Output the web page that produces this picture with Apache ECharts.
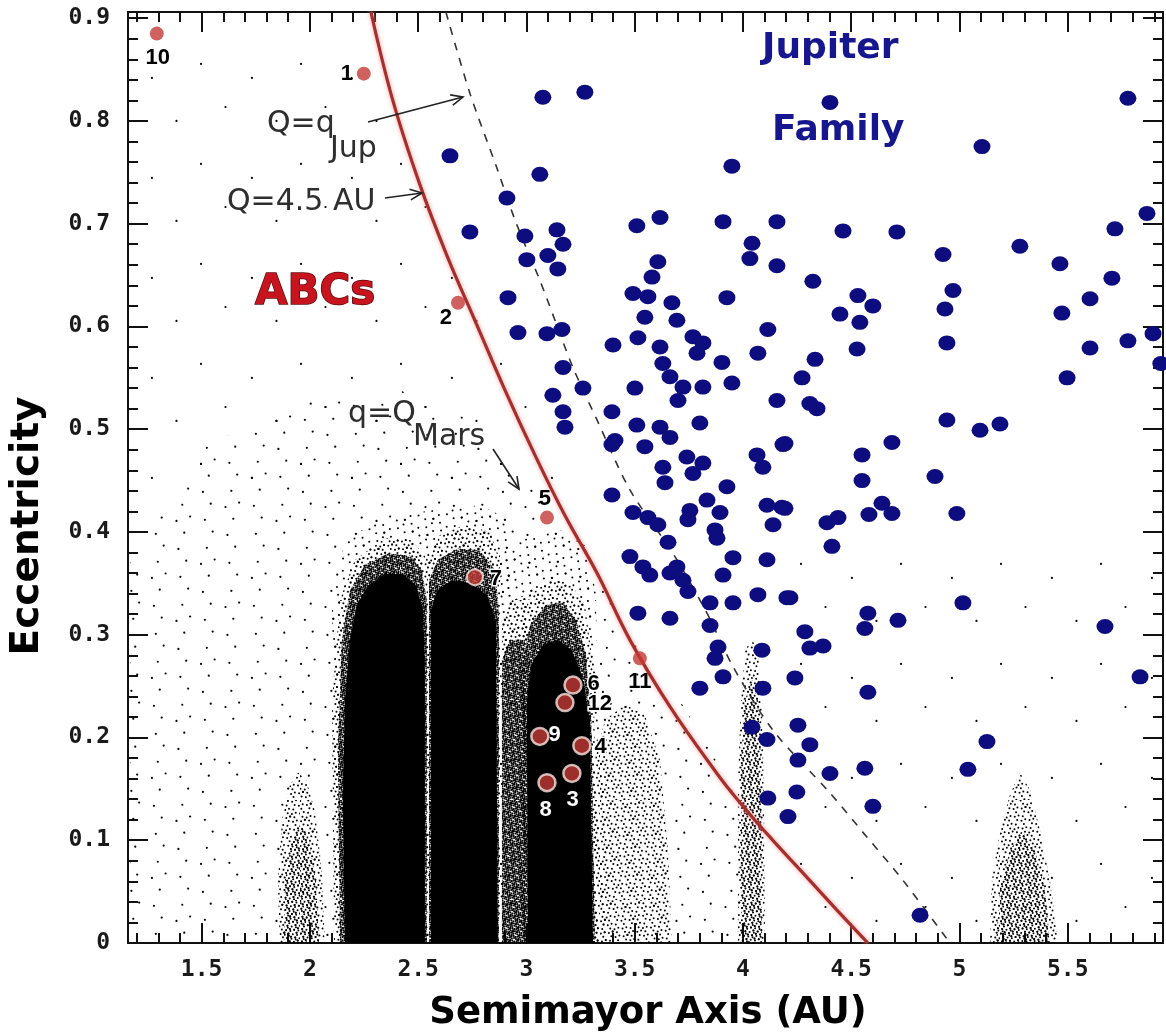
<!DOCTYPE html>
<html><head><meta charset="utf-8">
<script src="https://cdn.jsdelivr.net/npm/echarts@6/dist/echarts.min.js"></script>
<style>html,body{margin:0;padding:0;background:#fff}#c{width:1166px;height:1035px}</style>
</head><body><div id="c"></div>
<script>
// ================= DATA =================
// axis ticks
const xTickValues = [1.5, 2, 2.5, 3, 3.5, 4, 4.5, 5, 5.5];
const xMinorTickValues = [1.2,1.3,1.4,1.6,1.7,1.8,1.9,2.1,2.2,2.3,2.4,2.6,2.7,2.8,2.9,3.1,3.2,3.3,3.4,3.6,3.7,3.8,3.9,4.1,4.2,4.3,4.4,4.6,4.7,4.8,4.9,5.1,5.2,5.3,5.4,5.6,5.7,5.8,5.9];
const yTickValues = [0, 0.1, 0.2, 0.3, 0.4, 0.5, 0.6, 0.7, 0.8, 0.9];
const yMinorTickValues = [0.02,0.04,0.06,0.08,0.12,0.14,0.16,0.18,0.22,0.24,0.26,0.28,0.32,0.34,0.36,0.38,0.42,0.44,0.46,0.48,0.52,0.54,0.56,0.58,0.62,0.64,0.66,0.68,0.72,0.74,0.76,0.78,0.82,0.84,0.86,0.88];

// Jupiter-family comets [a, e]
const jupiterFamily = [
 [3.076,0.823],[3.270,0.828],[2.647,0.766],[3.062,0.748],[3.949,0.756],[2.910,0.725],[2.739,0.692],[2.993,0.688],
 [3.141,0.694],[3.169,0.680],[3.510,0.698],[3.617,0.706],[3.908,0.702],[4.157,0.702],[3.002,0.665],[3.099,0.669],
 [3.145,0.656],[4.042,0.681],[4.032,0.666],[4.157,0.659],[3.607,0.663],[3.580,0.648],[2.915,0.628],[3.492,0.632],
 [3.561,0.629],[3.672,0.623],[3.926,0.628],[3.547,0.609],[3.695,0.606],[2.961,0.594],[3.095,0.593],[3.164,0.597],
 [3.400,0.582],[3.515,0.589],[3.617,0.580],[3.630,0.564],[3.663,0.551],[3.769,0.590],[3.815,0.584],[3.788,0.574],
 [4.115,0.597],[4.069,0.574],[3.903,0.565],[3.169,0.560],[3.261,0.540],[3.122,0.533],[3.501,0.540],[3.723,0.541],
 [3.815,0.541],[3.949,0.545],[3.700,0.528],[4.157,0.528],[3.169,0.517],[3.178,0.502],[3.395,0.517],[3.510,0.504],
 [3.617,0.502],[3.663,0.492],[3.801,0.506],[3.409,0.489],[4.194,0.486],[4.402,0.818],[5.778,0.822],[5.104,0.775],
 [4.462,0.693],[4.711,0.692],[5.866,0.710],[5.718,0.695],[5.279,0.678],[4.924,0.670],[5.464,0.661],[4.323,0.644],
 [4.531,0.630],[4.600,0.620],[4.448,0.612],[4.540,0.604],[4.970,0.635],[4.933,0.617],[5.704,0.647],[5.603,0.627],
 [5.473,0.613],[4.527,0.578],[4.942,0.584],[5.603,0.579],[5.778,0.586],[5.894,0.593],[5.930,0.564],[4.333,0.568],
 [4.273,0.550],[4.309,0.525],[4.342,0.520],[5.497,0.550],[4.942,0.509],[5.095,0.499],[5.187,0.505],[4.688,0.487],
 [4.550,0.475],[4.550,0.450],[4.887,0.454],[4.194,0.423],[4.388,0.409],[4.439,0.414],[4.582,0.417],[4.642,0.428],
 [4.688,0.418],[4.988,0.418],[4.411,0.386],[4.217,0.336],[5.016,0.331],[4.577,0.321],[4.563,0.306],[4.716,0.314],
 [5.672,0.308],[4.286,0.303],[4.309,0.287],[4.370,0.289],[4.240,0.258],[4.577,0.244],[5.834,0.259],[4.254,0.212],
 [4.309,0.193],[5.127,0.196],[4.254,0.178],[4.402,0.165],[4.563,0.170],[5.039,0.169],[4.249,0.147],[4.600,0.133],
 [4.208,0.123],[4.818,0.027],[3.395,0.436],[3.492,0.419],[3.561,0.414],[3.607,0.407],[3.478,0.376],[3.538,0.366],
 [3.570,0.358],[3.654,0.390],[3.630,0.463],[3.741,0.473],[3.769,0.457],[3.815,0.467],[3.547,0.483],[3.640,0.448],
 [3.663,0.360],[3.723,0.353],[3.695,0.366],[3.746,0.342],[3.880,0.394],[3.871,0.402],[3.926,0.444],[3.834,0.431],
 [3.894,0.419],[3.755,0.421],[3.746,0.412],[3.954,0.375],[3.908,0.358],[4.111,0.373],[4.139,0.407],[4.111,0.426],
 [4.180,0.424],[4.065,0.475],[4.092,0.463],[4.185,0.485],[3.515,0.321],[3.663,0.316],[3.848,0.331],[3.954,0.331],
 [4.069,0.339],[4.203,0.336],[3.848,0.309],[3.885,0.288],[3.871,0.277],[3.908,0.259],[3.801,0.248],[4.088,0.285],
 [4.092,0.248],[4.042,0.210],[4.111,0.198],[4.115,0.141],[3.395,0.485]
];

// Asteroids in cometary orbits (ABCs)
const abcNames = ['1','2','3','4','5','6','7','8','9','10','11','12'];
const abcPoints = [[2.249,0.846],[2.684,0.623],[3.210,0.165],[3.256,0.192],[3.095,0.414],[3.215,0.251],
                   [2.762,0.356],[3.095,0.156],[3.062,0.201],[1.293,0.885],[3.524,0.277],[3.178,0.234]];

// Q = 4.5 AU boundary
const curveQ45 = [[2.282,0.906],[2.383,0.820],[2.508,0.738],[2.633,0.669],[2.762,0.606],[2.901,0.538],[3.039,0.475],
 [3.178,0.416],[3.326,0.360],[3.478,0.295],[3.663,0.230],[3.880,0.165],[3.977,0.139],[4.129,0.102],[4.282,0.067],[4.430,0.033],[4.577,0]];
// Q = q_Jup boundary (dashed)
const curveQJup = [[2.628,0.906],[2.739,0.827],[2.864,0.754],[2.952,0.701],[3.062,0.645],[3.132,0.606],[3.215,0.560],
 [3.326,0.509],[3.478,0.441],[3.677,0.379],[3.834,0.321],[3.954,0.269],[4.139,0.207],[4.402,0.146],[4.573,0.103],[4.739,0.061],[4.956,0]];

// asteroid population outlines [a, e]
const upperScatterField = [[1.169,0.888],[1.954,0.888],[2.416,0.801],[2.739,0.674],[2.970,0.548],[3.155,0.450],[1.169,0.450]];
const marsCrosserField = [[1.169,0.373],[1.492,0.480],[1.954,0.528],[2.416,0.538],[2.739,0.509],[2.970,0.460],[3.155,0.412],
 [3.386,0.334],[3.709,0.236],[3.986,0.139],[4.009,0],[1.169,0]];
const outerStrayField = [[4.20,0],[4.20,0.40],[5.90,0.40],[5.90,0]];
const beltUpperField = [[2.120,0],[2.102,0.334],[2.162,0.392],[2.323,0.412],[2.554,0.421],[2.785,0.426],[2.924,0.412],[2.901,0]];
const outerUpperField = [[2.901,0],[2.901,0.373],[2.970,0.392],[3.155,0.402],[3.270,0.387],[3.320,0.343],[3.330,0.250],[3.386,0]];
const innerBeltOuterHalo = [[2.111,0],[2.102,0.236],[2.139,0.334],[2.208,0.373],[2.346,0.394],[2.471,0.392],[2.545,0.373],[2.545,0]];
const innerBeltHalo = [[2.139,0],[2.129,0.188],[2.148,0.295],[2.185,0.343],[2.254,0.368],[2.360,0.379],[2.462,0.377],[2.517,0.363],[2.540,0.334],[2.540,0]];
const innerBeltCore = [[2.162,0],[2.152,0.139],[2.162,0.236],[2.185,0.295],[2.217,0.329],[2.268,0.348],[2.346,0.359],[2.430,0.359],[2.490,0.348],[2.522,0.324],[2.531,0.275],[2.531,0]];
const middleBeltOuterHalo = [[2.550,0],[2.550,0.373],[2.600,0.397],[2.716,0.407],[2.831,0.400],[2.878,0.373],[2.878,0]];
const middleBeltHalo = [[2.550,0],[2.550,0.353],[2.591,0.373],[2.684,0.384],[2.785,0.382],[2.855,0.363],[2.873,0.324],[2.873,0]];
const middleBeltCore = [[2.559,0],[2.559,0.324],[2.587,0.343],[2.656,0.353],[2.739,0.350],[2.818,0.339],[2.859,0.314],[2.868,0]];
const pristineUpper = [[2.887,0],[2.887,0.314],[2.933,0.334],[2.998,0.339],[2.998,0]];
const pristineZone = [[2.887,0],[2.887,0.275],[2.924,0.295],[2.993,0.295],[2.993,0]];
const outerBeltOuterHalo = [[2.970,0],[2.970,0.305],[3.016,0.339],[3.109,0.353],[3.201,0.351],[3.270,0.329],[3.305,0.275],[3.316,0.200],[3.330,0]];
const outerBeltHalo = [[2.988,0],[2.984,0.275],[3.016,0.309],[3.090,0.329],[3.169,0.331],[3.230,0.314],[3.275,0.280],[3.300,0.217],[3.316,0]];
const outerBeltCore = [[3.007,0],[3.002,0.236],[3.021,0.270],[3.076,0.290],[3.145,0.295],[3.210,0.285],[3.256,0.261],[3.293,0.217],[3.307,0]];
const cybeleGroup = [[3.307,0],[3.316,0.178],[3.363,0.217],[3.455,0.232],[3.547,0.222],[3.617,0.178],[3.654,0.090],[3.672,0]];
const hildaGroup = [[3.977,0],[3.977,0.159],[3.991,0.236],[4.009,0.285],[4.042,0.295],[4.069,0.285],[4.088,0.236],[4.097,0.139],[4.102,0]];
const hildaCore = [[3.991,0],[3.991,0.178],[4.009,0.236],[4.042,0.256],[4.069,0.236],[4.083,0.178],[4.088,0]];
const hungariaGroup = [[1.861,0],[1.852,0.061],[1.871,0.120],[1.908,0.154],[1.945,0.166],[1.982,0.159],[2.023,0.129],[2.055,0.071],[2.069,0]];
const hungariaCore = [[1.880,0],[1.885,0.061],[1.917,0.100],[1.954,0.115],[1.991,0.105],[2.028,0.061],[2.042,0]];
const trojanGroup = [[5.141,0],[5.150,0.061],[5.187,0.110],[5.233,0.144],[5.279,0.166],[5.326,0.149],[5.372,0.110],[5.418,0.061],[5.455,0]];
const trojanCore = [[5.169,0],[5.187,0.052],[5.233,0.090],[5.289,0.110],[5.349,0.090],[5.395,0.052],[5.418,0]];

// ================= STYLE =================
function stipple(count, radius) {
  const size = 100, cv = document.createElement('canvas');
  cv.width = cv.height = size;
  const g = cv.getContext('2d');
  g.fillStyle = '#000';
  const a1 = 0.7548776662466927, a2 = 0.5698402909980532;
  for (let i = 1; i <= count; i++) {
    const x = ((0.5 + a1 * i) % 1) * size, y = ((0.5 + a2 * i) % 1) * size;
    g.beginPath(); g.arc(x, y, radius, 0, Math.PI * 2); g.fill();
  }
  return { image: cv, repeat: 'repeat' };
}
const fills = {
  solid: '#000',
  dense: stipple(2300, 1.05),
  mdense: stipple(1000, 1.0),
  medium: stipple(500, 1.0),
  msparse: stipple(170, 1.0),
  sparse: stipple(32, 1.1),
  vsparse: stipple(4, 1.1)
};
const regions = [
  [upperScatterField, 'vsparse'], [outerStrayField, 'vsparse'], [marsCrosserField, 'sparse'],
  [beltUpperField, 'msparse'], [outerUpperField, 'msparse'],
  [cybeleGroup, 'medium'], [hildaGroup, 'medium'], [hungariaGroup, 'medium'], [trojanGroup, 'medium'],
  [hildaCore, 'mdense'], [hungariaCore, 'mdense'], [trojanCore, 'mdense'],
  [innerBeltOuterHalo, 'medium'], [middleBeltOuterHalo, 'medium'], [outerBeltOuterHalo, 'medium'], [pristineUpper, 'medium'],
  [pristineZone, 'dense'], [innerBeltHalo, 'dense'], [middleBeltHalo, 'dense'], [outerBeltHalo, 'dense'],
  [innerBeltCore, 'solid'], [middleBeltCore, 'solid'], [outerBeltCore, 'solid']
];

const X_MIN = 1.16, X_MAX = 5.94, Y_MIN = 0, Y_MAX = 0.906;
const tickFont = { color: '#1a1a1a', fontFamily: 'DejaVu Sans Mono', fontSize: 23, fontWeight: 'bold' };
function xAx(pos, vals, len, line, label) {
  return { type: 'value', min: X_MIN, max: X_MAX, position: pos, splitLine: { show: false },
    axisLine: { show: line, onZero: false, lineStyle: { color: '#111', width: 2 } },
    axisTick: { show: true, inside: true, length: len, customValues: vals, lineStyle: { color: '#111', width: 2 } },
    axisLabel: Object.assign({ show: label, customValues: vals, margin: 16, formatter: v => String(v) }, tickFont) };
}
function yAx(pos, vals, len, line, label) {
  return { type: 'value', min: Y_MIN, max: Y_MAX, position: pos, splitLine: { show: false },
    axisLine: { show: line, onZero: false, lineStyle: { color: '#111', width: 2 } },
    axisTick: { show: true, inside: true, length: len, customValues: vals, lineStyle: { color: '#111', width: 2 } },
    axisLabel: Object.assign({ show: label, customValues: vals, margin: 18, formatter: v => String(v) }, tickFont) };
}

const abcHalo = new Set(['3','4','6','8','9','12']);
const abcWhiteText = new Set(['3','8','9']);
const abcWhiteOutline = new Set(['4','6','7','12']);
const abcLabelOffset = { '1':[-17,0], '2':[-12,15], '3':[2,28], '4':[20,2], '5':[-2,-19], '6':[22,0],
  '7':[22,3], '8':[0,28], '9':[16,0], '10':[1,24], '11':[0,24], '12':[36,3] };

function arrow(x1, y1, x2, y2) {
  const ang = Math.atan2(y2 - y1, x2 - x1), L = 13, w = 0.42;
  const st = { stroke: '#222', lineWidth: 1.6, fill: null };
  return [
    { type: 'line', z: 100, shape: { x1, y1, x2, y2 }, style: st },
    { type: 'polyline', z: 100, shape: { points: [[x2 - L * Math.cos(ang - w), y2 - L * Math.sin(ang - w)], [x2, y2],
      [x2 - L * Math.cos(ang + w), y2 - L * Math.sin(ang + w)]] }, style: st }
  ];
}
function txt(x, y, text, font, fill, extra) {
  return Object.assign({ type: 'text', x, y, z: 100,
    style: { text, font, fill, align: 'left', verticalAlign: 'middle', textAlign: 'left', textVerticalAlign: 'middle' } }, extra || {});
}
const annoFont = '30px "DejaVu Sans"';

const chart = echarts.init(document.getElementById('c'), null, { renderer: 'canvas' });
const series = [];
regions.forEach(([poly, kind], i) => {
  series.push({
    type: 'custom', coordinateSystem: 'cartesian2d', silent: true, z: 1 + i * 0.01,
    data: [poly[0]],
    renderItem: (params, api) => ({
      type: 'polygon', shape: { points: poly.map(v => api.coord(v)) },
      style: { fill: fills[kind], stroke: null }
    })
  });
});
series.push({ type: 'line', data: curveQJup, smooth: 0.3, showSymbol: false, silent: true, z: 4,
  lineStyle: { color: '#333', width: 1.6, type: [8, 8] } });
series.push({ type: 'scatter', data: jupiterFamily, symbol: 'circle', symbolSize: [17, 15], silent: true, z: 5,
  itemStyle: { color: '#0d0d80', opacity: 1 } });
series.push({ type: 'line', data: curveQ45, smooth: 0.4, showSymbol: false, silent: true, z: 6,
  lineStyle: { color: '#a3302c', width: 3.2, shadowColor: 'rgba(255,140,140,0.9)', shadowBlur: 4 } });
series.push({ type: 'scatter', silent: true, z: 7,
  data: abcPoints.map((p, i) => {
    const n = abcNames[i], halo = abcHalo.has(n), white = abcWhiteText.has(n), outl = abcWhiteOutline.has(n);
    const s = halo ? 17 : (n === '7' ? 16 : 14), off = abcLabelOffset[n];
    return { value: p, name: n, symbolSize: s,
      itemStyle: { color: '#c33b36', borderColor: halo || n === '7' ? '#f7e4e0' : '#c33b36', borderWidth: halo ? 2.5 : (n === '7' ? 2 : 0) },
      label: { show: true, formatter: n, position: [s / 2 + off[0], s / 2 + off[1]], align: 'center', verticalAlign: 'middle',
        fontFamily: 'Liberation Sans', fontWeight: 'bold', fontSize: 22, opacity: 1,
        color: white ? '#ffffff' : '#000000',
        textBorderColor: outl ? '#ffffff' : 'transparent', textBorderWidth: outl ? 3 : 0 } };
  })
});

chart.setOption({
  animation: false,
  backgroundColor: '#fff',
  grid: { left: 128, right: 3, top: 12, bottom: 92 },
  xAxis: [ xAx('bottom', xTickValues, 20, true, true), xAx('bottom', xMinorTickValues, 10, false, false),
           xAx('top', xTickValues, 20, true, false), xAx('top', xMinorTickValues, 10, false, false) ],
  yAxis: [ yAx('left', yTickValues, 20, true, true), yAx('left', yMinorTickValues, 10, false, false),
           yAx('right', yTickValues, 20, true, false), yAx('right', yMinorTickValues, 10, false, false) ],
  series,
  graphic: [
    txt(267, 124, 'Q=q', annoFont, '#2e2e2e'),
    txt(330, 149, 'Jup', annoFont, '#2e2e2e'),
    txt(227, 202, 'Q=4.5 AU', annoFont, '#2e2e2e'),
    txt(348, 414, 'q=Q', annoFont, '#2e2e2e'),
    txt(413, 437, 'Mars', annoFont, '#2e2e2e'),
    ...arrow(368, 122, 463, 97),
    ...arrow(385, 198, 422, 193),
    ...arrow(493, 449, 519, 489),
    { type: 'text', x: 255, y: 293, z: 100, style: { text: 'ABCs', font: 'bold 42px "DejaVu Sans"', fill: '#c8141e',
      stroke: '#5c0a0a', lineWidth: 1.5, align: 'left', verticalAlign: 'middle', textAlign: 'left', textVerticalAlign: 'middle' } },
    txt(762, 49, 'Jupiter', 'bold 36px "DejaVu Sans"', '#16168e'),
    txt(772, 131, 'Family', 'bold 36px "DejaVu Sans"', '#16168e'),
    { type: 'text', x: 648, y: 1013, z: 100, style: { text: 'Semimayor Axis (AU)', font: 'bold 37px "DejaVu Sans"', fill: '#000',
      align: 'center', verticalAlign: 'middle', textAlign: 'center', textVerticalAlign: 'middle' } },
    { type: 'text', x: 28, y: 526, rotation: Math.PI / 2, z: 100, style: { text: 'Eccentricity', font: 'bold 39px "DejaVu Sans"', fill: '#000',
      align: 'center', verticalAlign: 'middle', textAlign: 'center', textVerticalAlign: 'middle' } }
  ]
});
</script>
</body></html>
